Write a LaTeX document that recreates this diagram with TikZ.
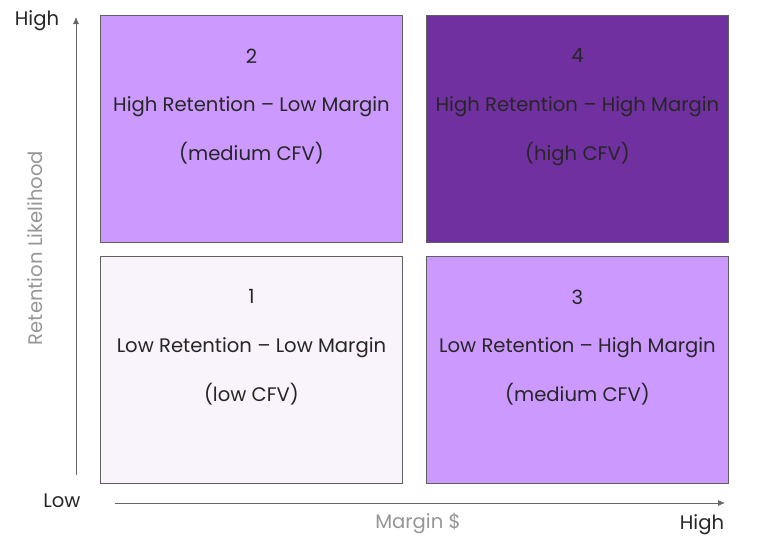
\documentclass[tikz,border=0pt]{standalone}
\usepackage{fontspec}
\setmainfont{Poppins}
\usetikzlibrary{arrows.meta, positioning}
\definecolor{lowfill}{RGB}{249,244,251}
\definecolor{midfill}{RGB}{204,153,255}
\definecolor{highfill}{RGB}{112,48,160}
\definecolor{boxborder}{RGB}{96,96,96}
\definecolor{axisgray}{RGB}{128,128,128}
\definecolor{labgray}{RGB}{150,150,150}
\tikzset{
  quad/.style={rectangle, draw=boxborder, line width=0.9pt, minimum width=302pt,
               minimum height=227pt, inner sep=0pt, anchor=north west},
  quadtxt/.style={align=center, font=\fontsize{19.6}{48.7}\selectfont, text=black!85,
                  anchor=north, inner sep=0pt},
  axis/.style={-{Latex[length=7pt, width=6pt]}, line width=0.8pt, draw=axisgray!80!black},
  endlab/.style={font=\fontsize{19.6}{22}\selectfont, text=black!85},
  axlab/.style={font=\fontsize{19.6}{22}\selectfont, text=labgray}
}
\begin{document}
\begin{tikzpicture}[x=1pt, y=-1pt]
\useasboundingbox (0,0) rectangle (767,547);
% quadrants
\node[quad, fill=midfill] (q2) at (100,15) {};
\node[quad, fill=highfill] (q4) at (426,15) {};
\node[quad, fill=lowfill] (q1) at (100,256) {};
\node[quad, fill=midfill] (q3) at (426,256) {};
\node[quadtxt, below=33.5pt of q2.north] (t2) {2\\High Retention -- Low Margin\\(medium CFV)};
\node[quadtxt, below=33.5pt of q4.north] (t4) {4\\High Retention -- High Margin\\(high CFV)};
\node[quadtxt, below=33.5pt of q1.north] (t1) {1\\Low Retention -- Low Margin\\(low CFV)};
\node[quadtxt, below=33.5pt of q3.north] (t3) {3\\Low Retention -- High Margin\\(medium CFV)};
% axes
\coordinate (yo) at (76,475);
\coordinate (yt) at (76,17);
\coordinate (xo) at (115,503);
\coordinate (xt) at (725,503);
\draw[axis] (yo) -- (yt);
\draw[axis] (xo) -- (xt);
\node[endlab] (yhigh) at (37,21) {High};
\node[endlab] (ylow) at (62,501) {Low};
\node[endlab] (xhigh) at (702,525) {High};
\node[axlab] (xlab) at (418,523) {Margin \$};
\node[axlab, rotate=90] (ylab) at (35,248) {Retention Likelihood};
\end{tikzpicture}
\end{document}
